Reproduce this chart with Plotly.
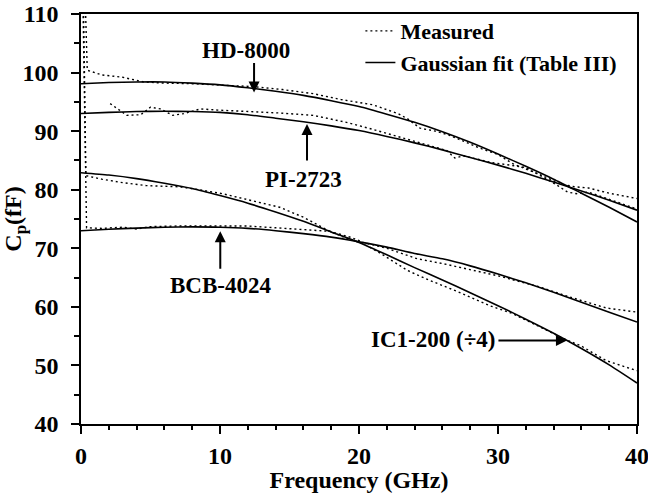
import plotly.graph_objects as go

# ---------------- data ----------------
fit_freq = [0, 2, 4, 6, 8, 10, 12, 14, 16, 18, 20, 22, 24, 26, 28, 30, 32, 34, 36, 38, 40]
hd_fit  = [98.1, 98.3, 98.4, 98.4, 98.2, 97.9, 97.4, 96.8, 96.1, 95.2, 94.2, 92.9, 91.5, 89.9, 88.1, 86.1, 84.0, 81.8, 79.4, 77.0, 74.5]
pi_fit  = [93.0, 93.2, 93.35, 93.4, 93.35, 93.2, 92.8, 92.2, 91.6, 90.9, 90.1, 89.1, 88.0, 86.8, 85.5, 84.2, 82.8, 81.3, 79.8, 78.2, 76.5]
bcb_fit = [73.0, 73.25, 73.45, 73.6, 73.65, 73.6, 73.4, 73.0, 72.5, 71.9, 71.1, 70.2, 69.1, 68.2, 67.0, 65.6, 64.1, 62.5, 60.8, 59.1, 57.4]
ic1_fit = [82.9, 82.5, 81.9, 81.1, 80.2, 79.0, 77.7, 76.2, 74.6, 72.8, 71.0, 68.9, 66.7, 64.6, 62.4, 60.2, 57.9, 55.5, 52.9, 50.1, 47.0]

hd_meas_f = [0.15, 0.45, 1.5, 3.0, 4.5, 6.0, 8.0, 10.0, 12.4, 14.5, 16.7, 18.7, 21.0, 22.8, 23.5, 24.4, 25.5, 26.5, 27.7, 28.7, 30.0, 31.1, 33.0, 34.5, 35.5, 36.5, 38.0, 40.0]
hd_meas   = [125.0, 100.4, 99.6, 99.2, 98.4, 98.2, 98.1, 97.9, 97.6, 97.1, 96.4, 95.4, 94.5, 93.0, 92.1, 90.5, 90.0, 89.3, 88.1, 87.1, 86.0, 84.4, 82.6, 81.0, 80.5, 80.3, 79.4, 78.5]

pi_meas_f = [2.1, 3.3, 4.3, 5.0, 5.7, 6.6, 7.4, 8.6, 9.8, 11.9, 14.3, 16.7, 19.1, 21.0, 23.5, 25.0, 26.3, 26.9, 27.5, 29.4, 32.0, 33.2, 34.1, 35.0, 35.7, 36.5, 38.0, 40.0]
pi_meas   = [94.7, 92.7, 92.8, 94.1, 93.8, 92.7, 93.0, 93.8, 93.6, 93.4, 93.1, 92.7, 91.5, 90.3, 88.6, 87.6, 86.7, 85.4, 85.8, 84.7, 83.8, 82.2, 81.0, 79.6, 79.3, 79.6, 78.3, 76.7]

bcb_meas_f = [0.05, 0.4, 1.5, 3.0, 4.0, 5.0, 7.0, 9.0, 10.7, 12.0, 14.0, 16.0, 17.9, 19.5, 20.3, 22.0, 24.2, 26.0, 28.0, 30.0, 33.0, 35.0, 37.8, 40.0]
bcb_meas   = [125.0, 73.5, 73.4, 73.6, 73.3, 73.7, 73.8, 73.8, 73.9, 73.8, 73.5, 73.2, 72.9, 71.8, 71.0, 70.0, 68.2, 67.4, 66.4, 65.3, 63.4, 61.8, 59.8, 59.1]

ic1_meas_f = [0.1, 0.35, 1.5, 3.0, 4.7, 7.1, 8.5, 10.2, 12.0, 14.3, 16.0, 17.9, 19.0, 20.3, 21.5, 23.5, 25.0, 27.0, 29.4, 31.0, 33.0, 34.7, 36.0, 37.8, 40.0]
ic1_meas   = [125.0, 82.4, 81.8, 81.2, 80.7, 80.5, 80.0, 79.3, 78.3, 77.0, 75.3, 72.9, 71.8, 70.8, 69.2, 66.2, 64.6, 62.7, 60.2, 58.9, 56.6, 54.6, 53.3, 50.8, 49.1]

x_ticks = [0, 10, 20, 30, 40]
y_ticks = [40, 50, 60, 70, 80, 90, 100, 110]

labels = ["HD-8000", "PI-2723", "BCB-4024", "IC1-200 (÷4)"]

# ---------------- figure ----------------
FONT = "Liberation Serif"
fig = go.Figure()

measured = [(hd_meas_f, hd_meas), (pi_meas_f, pi_meas), (bcb_meas_f, bcb_meas), (ic1_meas_f, ic1_meas)]
fits = [hd_fit, pi_fit, bcb_fit, ic1_fit]

for i, (f, v) in enumerate(measured):
    fig.add_trace(go.Scatter(x=f, y=v, mode="lines", name="Measured",
                             legendgroup="meas", showlegend=(i == 0),
                             line=dict(color="black", width=1.4, dash="2px,3px")))
for i, v in enumerate(fits):
    fig.add_trace(go.Scatter(x=fit_freq, y=v, mode="lines", name="Gaussian fit (Table III)",
                             legendgroup="fit", showlegend=(i == 0),
                             line=dict(color="black", width=1.6, shape="spline", smoothing=0.6)))

# labels and arrows
txt = dict(family=FONT, size=23, color="black", weight="bold")
arrow = dict(showarrow=True, arrowhead=2, arrowsize=1.1, arrowwidth=2, arrowcolor="black", text="")
# HD-8000
fig.add_annotation(x=11.9, y=103.7, text=labels[0], showarrow=False, font=txt)
fig.add_annotation(x=12.45, y=96.6, ax=0, ay=-31, **arrow)
# PI-2723
fig.add_annotation(x=16.0, y=81.8, text=labels[1], showarrow=False, font=txt)
fig.add_annotation(x=16.26, y=91.2, ax=0, ay=38, **arrow)
# BCB-4024
fig.add_annotation(x=10.0, y=63.6, text=labels[2], showarrow=False, font=txt)
fig.add_annotation(x=10.02, y=72.9, ax=0, ay=39, **arrow)
# IC1-200
fig.add_annotation(x=29.95, y=54.5, text=labels[3], showarrow=False, font=txt, xanchor="right")
fig.add_annotation(x=34.96, y=54.25, ax=-70, ay=0, **arrow)

axis_common = dict(showgrid=False, zeroline=False, showline=True, linecolor="black", linewidth=1.5,
                   mirror=True, ticks="outside", tickcolor="black", tickwidth=1.5, ticklen=8,
                   tickfont=dict(family=FONT, size=24, color="black", weight="bold"))

fig.update_layout(
    width=648, height=493,
    margin=dict(l=81, r=11, t=14, b=69, autoexpand=False),
    paper_bgcolor="white", plot_bgcolor="white",
    font=dict(family=FONT, color="black", weight="bold"),
    xaxis=dict(range=[0, 40], tickvals=x_ticks, ticktext=[str(t) for t in x_ticks],
               minor=dict(dtick=2, ticks="outside", ticklen=4, tickcolor="black", tickwidth=1.5),
               title=dict(text="Frequency (GHz)", font=dict(family=FONT, size=24, color="black", weight="bold"), standoff=7),
               ticklabelstandoff=1, ticklabeloverflow="allow",
               **axis_common),
    yaxis=dict(range=[40, 110], tickvals=y_ticks, ticktext=[str(t) for t in y_ticks],
               minor=dict(dtick=5, ticks="outside", ticklen=5, tickcolor="black", tickwidth=1.5),
               title=dict(text="C<sub>p</sub>(fF)", font=dict(family=FONT, size=24, color="black", weight="bold"), standoff=4),
               ticklabelstandoff=8, ticklabeloverflow="allow",
               **axis_common),
    legend=dict(x=0.5025, y=1.0095, xanchor="left", yanchor="top", bgcolor="rgba(0,0,0,0)",
                font=dict(family=FONT, size=22, color="black", weight="bold"),
                tracegroupgap=0, itemwidth=30),
    showlegend=True,
)

fig.write_html("out.html")
